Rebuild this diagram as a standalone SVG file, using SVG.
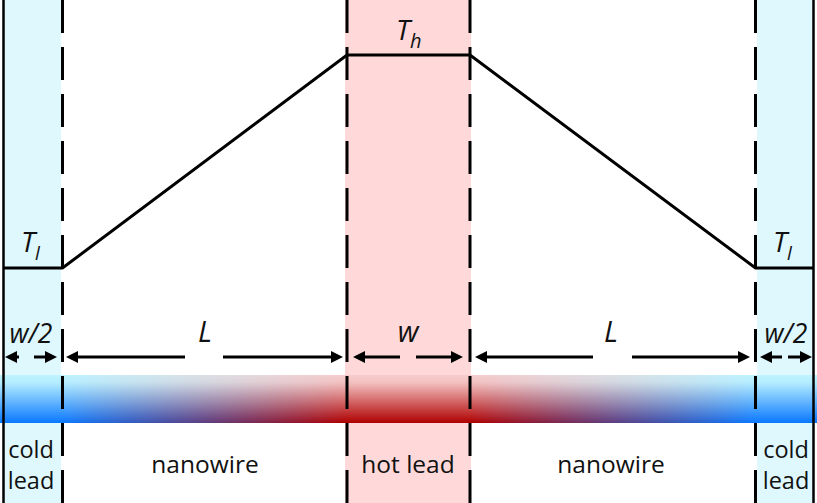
<svg xmlns="http://www.w3.org/2000/svg" width="817" height="503" viewBox="0 0 817 503">
<style>
.lbl{font-family:"Open Sans","Liberation Sans",sans-serif;font-size:24.5px;fill:#111;text-anchor:middle}
.lead{font-family:"Open Sans","Liberation Sans",sans-serif;font-size:23.5px;fill:#111;text-anchor:middle}
.it{font-family:"Open Sans","Liberation Sans",sans-serif;font-style:italic;fill:#111}
.dash{stroke:#000;stroke-width:3;stroke-dasharray:33 14;fill:none}
.arr{stroke:#000;stroke-width:3;fill:none;marker-end:url(#ah)}
.prof{stroke:#000;stroke-width:3;fill:none;stroke-linejoin:miter}
</style>
<defs>
<marker id="ah" markerUnits="userSpaceOnUse" markerWidth="14" markerHeight="14" refX="2" refY="6" orient="auto" overflow="visible">
<path d="M0,0 L12,6 L0,12 z" fill="#000"/>
</marker>
<linearGradient id="gBot" x1="0" y1="0" x2="817" y2="0" gradientUnits="userSpaceOnUse">
<stop offset="0" stop-color="#0a78ff"/>
<stop offset="0.076" stop-color="#0a78ff"/>
<stop offset="0.425" stop-color="#b00000"/>
<stop offset="0.575" stop-color="#b00000"/>
<stop offset="0.924" stop-color="#0a78ff"/>
<stop offset="1" stop-color="#0a78ff"/>
</linearGradient>
<linearGradient id="gTop" x1="0" y1="0" x2="817" y2="0" gradientUnits="userSpaceOnUse">
<stop offset="0" stop-color="#bff4ff"/>
<stop offset="0.076" stop-color="#bff4ff"/>
<stop offset="0.425" stop-color="#f7cccc"/>
<stop offset="0.575" stop-color="#f7cccc"/>
<stop offset="0.924" stop-color="#bff4ff"/>
<stop offset="1" stop-color="#bff4ff"/>
</linearGradient>
<linearGradient id="gFade" x1="0" y1="0" x2="0" y2="1">
<stop offset="0" stop-color="#fff" stop-opacity="1"/>
<stop offset="0.15" stop-color="#fff" stop-opacity="0.95"/>
<stop offset="1" stop-color="#fff" stop-opacity="0"/>
</linearGradient>
<mask id="mFade" maskContentUnits="objectBoundingBox">
<rect x="0" y="0" width="1" height="1" fill="url(#gFade)"/>
</mask>
</defs>
<rect width="817" height="503" fill="#fff"/>
<g id="regions">
<rect x="4" y="0" width="57" height="503" fill="#dff8fe"/>
<rect x="345" y="0" width="126" height="503" fill="#ffd9d9"/>
<rect x="757" y="0" width="57" height="503" fill="#dff8fe"/>
</g>
<g id="bar">
<rect x="0" y="375" width="817" height="48" fill="url(#gBot)"/>
<rect x="0" y="375" width="817" height="48" fill="url(#gTop)" mask="url(#mFade)"/>
</g>
<g id="boundaries">
<line x1="3.5" y1="0" x2="3.5" y2="503" stroke="#000" stroke-width="2.5"/>
<line x1="813.5" y1="0" x2="813.5" y2="503" stroke="#000" stroke-width="2.5"/>
<line class="dash" x1="62.5" y1="0" x2="62.5" y2="503"/>
<line class="dash" x1="347" y1="0" x2="347" y2="503"/>
<line class="dash" x1="470" y1="0" x2="470" y2="503"/>
<line class="dash" x1="755.5" y1="0" x2="755.5" y2="503"/>
</g>
<g id="profile">
<polyline class="prof" points="3,268 62.5,268 347,55 470,55 755.5,268 814,268"/>
</g>
<g id="connectors">
<line class="arr" x1="19" y1="357" x2="15" y2="357"/>
<line class="arr" x1="34" y1="357" x2="47" y2="357"/>
<line class="arr" x1="185" y1="357" x2="76" y2="357"/>
<line class="arr" x1="223" y1="357" x2="333" y2="357"/>
<line class="arr" x1="400" y1="357" x2="363" y2="357"/>
<line class="arr" x1="416" y1="357" x2="453" y2="357"/>
<line class="arr" x1="593" y1="357" x2="485" y2="357"/>
<line class="arr" x1="632" y1="357" x2="740" y2="357"/>
<line class="arr" x1="782" y1="357" x2="770" y2="357"/>
<line class="arr" x1="788" y1="357" x2="802" y2="357"/>
</g>
<g id="labels">
<text class="it" x="21" y="252" font-size="28">T<tspan font-size="19" dy="8">l</tspan></text>
<text class="it" x="396" y="40" font-size="28">T<tspan font-size="20" dy="8">h</tspan></text>
<text class="it" x="773" y="252" font-size="28">T<tspan font-size="19" dy="8">l</tspan></text>
<text class="it" x="31" y="343" font-size="26.5" text-anchor="middle">w/2</text>
<text class="it" x="786" y="343" font-size="26.5" text-anchor="middle">w/2</text>
<text class="it" x="205" y="342" font-size="29" text-anchor="middle">L</text>
<text class="it" x="611" y="342" font-size="29" text-anchor="middle">L</text>
<text class="it" x="408" y="342" font-size="29" text-anchor="middle">w</text>
</g>
<g id="bottom-labels">
<text class="lead" x="31" y="458">cold</text>
<text class="lead" x="31" y="489">lead</text>
<text class="lbl" x="205" y="473">nanowire</text>
<text class="lbl" x="408" y="473">hot lead</text>
<text class="lbl" x="611" y="473">nanowire</text>
<text class="lead" x="786" y="458">cold</text>
<text class="lead" x="786" y="489">lead</text>
</g>
</svg>
